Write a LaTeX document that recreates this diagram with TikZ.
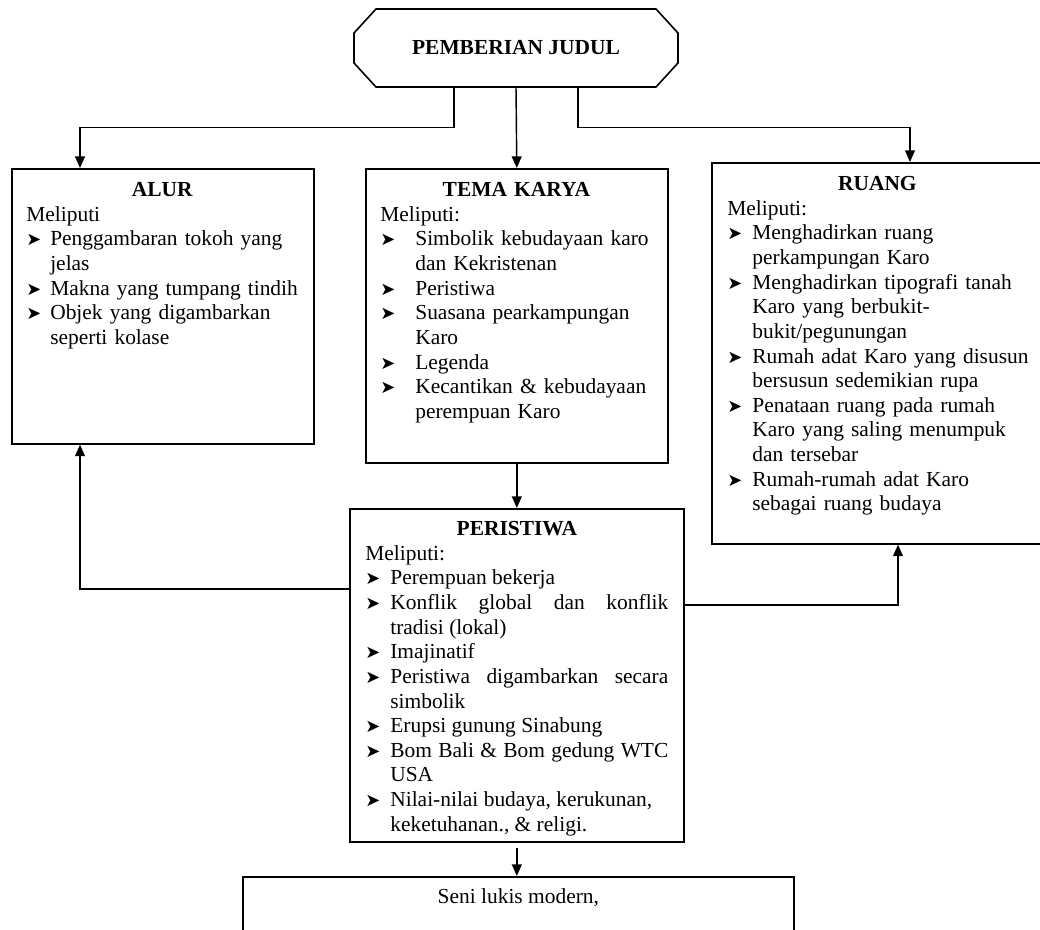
\documentclass[tikz,border=0pt]{standalone}
\usepackage{fontspec}
\setmainfont{Liberation Serif}
\newfontfamily\bulfont{DejaVu Sans}
\usetikzlibrary{arrows.meta,calc}
\hyphenpenalty=10000
\exhyphenpenalty=10000
% satu piksel gambar acuan
\newcommand{\pxu}{0.56pt}
\newcommand{\bul}{{\bulfont\fontsize{10}{10}\selectfont ➤}}
\newcommand{\itm}[2][14pt]{\par\hangindent=#1\hangafter=1\noindent\makebox[#1][l]{\bul}#2}

\begin{document}
\begin{tikzpicture}[x=0.56pt,y=-0.56pt,
  box/.style={draw,line width=0.9pt,anchor=north west,inner sep=0pt},
  txt/.style={anchor=north west,inner sep=0pt,font=\fontsize{12}{13.8}\selectfont},
  arr/.style={line width=0.8pt,-{Triangle[length=6.5pt,width=5.5pt]}}]
\useasboundingbox (0,0) rectangle (1040,930);
\clip (0,0) rectangle (1040,930);

% judul (segi delapan)
\draw[line width=0.9pt] (354,33) -- (376,9) -- (656,9) -- (678,33) -- (678,63) -- (656,87) -- (376,87) -- (354,63) -- cycle;
\node[txt,anchor=center,minimum width=324*\pxu,minimum height=78*\pxu] (judul) at (516,48) {\textbf{PEMBERIAN JUDUL}};

% kotak-kotak
\node[box,minimum width=302*\pxu,minimum height=275*\pxu] (alur) at (11,168) {};
\node[box,minimum width=302*\pxu,minimum height=294*\pxu] (tema) at (365,168) {};
\node[box,minimum width=334*\pxu,minimum height=381*\pxu] (ruang) at (711,162) {};
\node[box,minimum width=334*\pxu,minimum height=333*\pxu] (peristiwa) at (349,508) {};
\node[box,minimum width=551*\pxu,minimum height=100*\pxu] (seni) at (242,876) {};

% isi ALUR
\node[txt,text width=272*\pxu,align=left] (alurisi) at ($(alur.north west)+(15,14)$) {%
  {\centering\textbf{ALUR}\par}
  Meliputi
  \itm[13.4pt]{Penggambaran tokoh yang\newline jelas}
  \itm[13.4pt]{Makna yang tumpang tindih}
  \itm[13.4pt]{Objek yang digambarkan\newline seperti kolase}\par};

% isi TEMA KARYA
\node[txt,text width=272*\pxu,align=left] (temaisi) at ($(tema.north west)+(15,14)$) {%
  {\centering\textbf{TEMA KARYA}\par}
  Meliputi:
  \itm[19.6pt]{Simbolik kebudayaan karo\newline dan Kekristenan}
  \itm[19.6pt]{Peristiwa}
  \itm[19.6pt]{Suasana pearkampungan\newline Karo}
  \itm[19.6pt]{Legenda}
  \itm[19.6pt]{Kecantikan \& kebudayaan\newline perempuan Karo}\par};

% isi RUANG
\node[txt,text width=330*\pxu,align=left] (ruangisi) at ($(ruang.north west)+(16,14)$) {%
  \hbox to 168pt{\hfil\textbf{RUANG}\hfil}
  Meliputi:
  \itm{Menghadirkan ruang\newline perkampungan Karo}
  \itm{Menghadirkan tipografi tanah\newline Karo yang berbukit-\newline bukit/pegunungan}
  \itm{Rumah adat Karo yang disusun\newline bersusun sedemikian rupa}
  \itm{Penataan ruang pada rumah\newline Karo yang saling menumpuk\newline dan tersebar}
  \itm{Rumah-rumah adat Karo\newline sebagai ruang budaya}\par};

% isi PERISTIWA
\node[txt,text width=303*\pxu,align=justify] (peristiwaisi) at ($(peristiwa.north west)+(16,13)$) {%
  \tolerance=10000
  {\centering\textbf{PERISTIWA}\par}
  Meliputi:
  \itm{Perempuan bekerja}
  \itm{Konflik global dan konflik\linebreak tradisi (lokal)}
  \itm{Imajinatif}
  \itm{Peristiwa digambarkan secara\linebreak simbolik}
  \itm{Erupsi gunung Sinabung}
  \itm{Bom Bali \& Bom gedung WTC\linebreak USA}
  \itm{Nilai-nilai budaya, kerukunan,\newline keketuhanan., \& religi.}\par};

% isi kotak bawah
\node[txt,anchor=north] (seniisi) at ($(seni.north)+(0,12)$) {Seni lukis modern,};

% panah dari judul
\draw[arr] ($(judul.south)+(-62,0)$) -- ++(0,40) -| ($(alur.north west)+(69,0)$);
\draw[arr] (judul.south) -- (tema.north);
\draw[arr] ($(judul.south)+(62,0)$) -- ++(0,40) -| ($(ruang.north west)+(199,0)$);

% panah dari tema dan peristiwa
\draw[arr] (tema.south) -- (peristiwa.north);
\draw[arr] ($(peristiwa.north west)+(0,81)$) -| ($(alur.south west)+(69,0)$);
\draw[arr] ($(peristiwa.north east)+(-1,97)$) -| ($(ruang.south west)+(187,0)$);
\draw[arr,shorten <=3pt] (peristiwa.south) -- (peristiwa.south |- seni.north);
\end{tikzpicture}
\end{document}
